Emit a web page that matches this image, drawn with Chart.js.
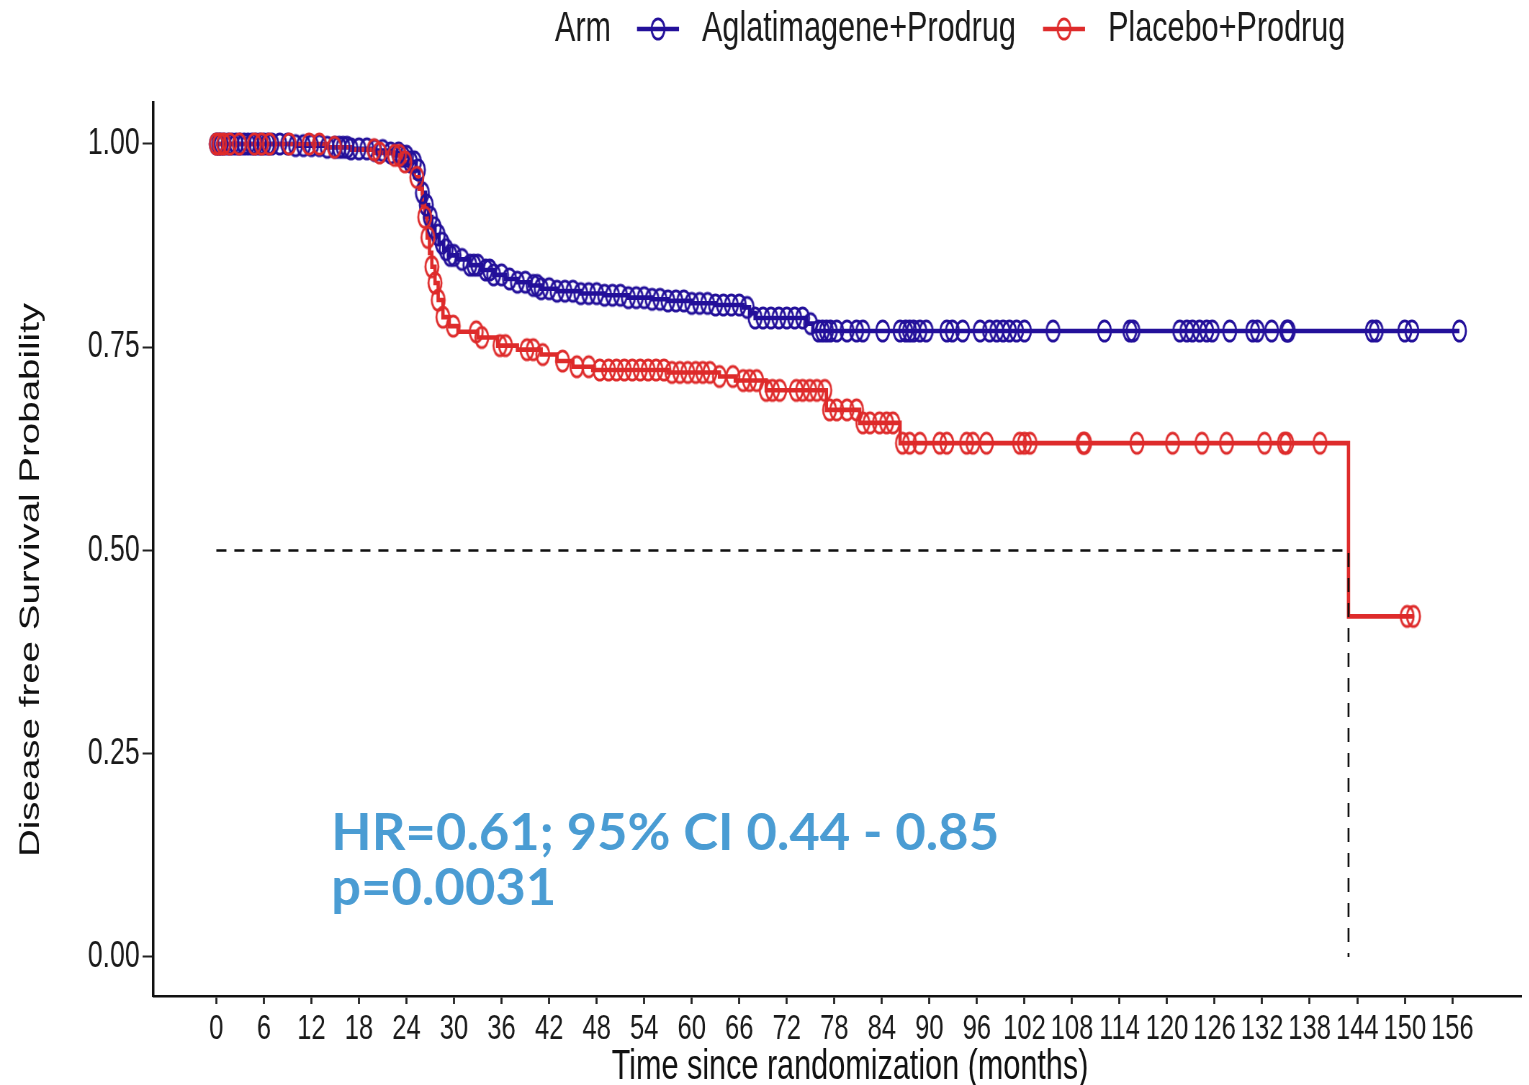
<!DOCTYPE html>
<html><head><meta charset="utf-8">
<script src="https://cdn.jsdelivr.net/npm/chart.js@4.4.1/dist/chart.umd.min.js"></script>
<style>
html,body{margin:0;padding:0;background:#fff;overflow:hidden;width:1529px;height:1085px}
#wrap{position:absolute;left:0;top:0;transform-origin:0 0}
canvas{display:block}
</style></head><body>
<div id="wrap"><canvas id="c"></canvas></div>
<script>
// ---------------- data ----------------
const xTickLabels = [0,6,12,18,24,30,36,42,48,54,60,66,72,78,84,90,96,102,108,114,120,126,132,138,144,150,156];
const yTickLabels = [0,0.25,0.5,0.75,1];
const armNames = ['Aglatimagene+Prodrug','Placebo+Prodrug'];

// Aglatimagene+Prodrug : event times (months) and survival after each event
const aglaTimes = [0,10,14,17,20,22,23.5,24.5,25.2,25.6,26,26.4,26.8,27.2,27.6,28.1,28.7,29.4,30.5,32,33.5,35,36.5,38,39.5,41,43,46,49,52,55,57,60,63,66.5,67.3,68,74.5,75.3];
const aglaSurv  = [1,0.998,0.996,0.994,0.992,0.989,0.985,0.978,0.968,0.955,0.94,0.925,0.91,0.897,0.888,0.878,0.87,0.863,0.858,0.851,0.845,0.839,0.834,0.83,0.826,0.822,0.819,0.816,0.814,0.811,0.809,0.807,0.804,0.802,0.799,0.792,0.786,0.779,0.770];
const aglaCensor = [0,0.3,0.6,1,1.5,2,2.5,3,3.5,4,4.5,5,5.5,6,6.5,7,8,9,10,11,12,13,14,15,15.5,16,16.5,17,18,19,20,21,22,23,23.5,24,24.5,25,25.5,26,26.5,27,27.5,28,28.5,29,29.5,30,31,32,32.5,33,34,34.5,35,36,37,38,39,40,40.5,41,42,43,44,45,46,47,48,49,50,51,52,53,54,55,56,57,58,59,60,61,62,63,64,65,66,67,68,69,70,71,72,73,74,75,76,76.5,77,77.5,78.3,79.6,80.8,81.6,84.1,86.3,87,87.5,88,88.8,89.6,92.2,92.9,94.2,96.4,97.6,98.5,99.3,100.1,101,102,105.6,112.1,115.3,115.7,121.6,122.5,123.2,124.1,125,125.7,127.9,130.8,131.4,133.2,135.1,135.3,145.9,146.4,150,150.9,156.9];

// Placebo+Prodrug
const placTimes = [0,14,17,20,22.5,23.5,24.3,25,25.6,26,26.3,26.6,26.9,27.2,27.6,28,28.6,29.4,30.5,33,35.5,38,41,43,45,47.5,57,63.5,65.5,69.4,77,81.2,86.3,142.9];
const placSurv  = [1,0.996,0.993,0.989,0.986,0.978,0.968,0.959,0.945,0.925,0.91,0.885,0.866,0.849,0.829,0.808,0.787,0.776,0.769,0.762,0.752,0.747,0.741,0.733,0.726,0.722,0.719,0.714,0.709,0.697,0.673,0.657,0.632,0.419];
const placCensor = [0,0.4,0.9,1.7,2.9,4.8,5.7,6.7,9.2,11.7,13,14.9,19.9,20.6,22.5,23.1,23.8,25.3,26.3,26.7,27.2,27.6,28,28.6,29.9,32.8,33.5,35.8,36.5,39.2,40,41.2,43.7,45.5,47,48.4,49.5,50.5,51.5,52.5,53.5,54.5,55.5,56.5,57.5,58.5,59.5,60.5,61.4,62.3,63.5,65.2,66.5,67.3,68.2,69.4,70.2,71.1,73.2,74,74.9,75.8,76.8,77.4,78.3,79.6,80.8,81.6,82.5,83.7,84.6,85.4,86.6,87.5,88.8,91.3,92.2,94.7,95.5,97.2,101.4,102,102.7,109.4,109.6,116.2,120.7,124.4,127.5,132.3,134.8,135.1,139.3,150.3,151.1];

// median survival reference line
const medianTime = [142.9];
const medianSurv = [0.5];

const annotLines = ['HR=0.61; 95% CI 0.44 - 0.85','p=0.0031'];
const annotAnchor = [14.5, 0.132];
const yTitle = 'Disease free Survival Probability';
const xTitle = 'Time since randomization (months)';

// ---------------- styling / layout ----------------
const SX = 0.72;                       // horizontal compression of the picture
const W = Math.round(1529 / SX), H = 1085;
const BLUE = '#23109a', RED = '#de2b2b', ANNOT = '#4a9cd3';
const FONT = "'Liberation Sans', Arial, sans-serif";

const cv = document.getElementById('c');
cv.width = W; cv.height = H;
cv.style.width = W + 'px'; cv.style.height = H + 'px';
document.getElementById('wrap').style.transform = 'scaleX(' + SX + ')';

function survAt(times, surv, t) {
  let s = surv[0];
  for (let i = 0; i < times.length; i++) if (times[i] <= t) s = surv[i];
  return s;
}
function stepData(times, surv, censor) {
  const d = times.map((t, i) => ({x: t, y: surv[i]}));
  const last = Math.max(...censor);
  d.push({x: last, y: survAt(times, surv, last)});
  return d;
}
function censorData(times, surv, censor) {
  return censor.map(t => ({x: t, y: survAt(times, surv, t)}));
}
function ring(color) {
  const c = document.createElement('canvas');
  c.width = 24; c.height = 26;
  const g = c.getContext('2d');
  g.strokeStyle = color; g.lineWidth = 2.8;
  g.beginPath(); g.ellipse(12, 13, 9, 10.2, 0, 0, Math.PI * 2); g.stroke();
  return c;
}
const ringBlue = ring(BLUE), ringRed = ring(RED);

const overlay = {
  id: 'overlay',
  afterDraw(chart) {
    const ctx = chart.ctx;
    // legend
    ctx.save();
    ctx.font = '42.5px ' + FONT;
    ctx.fillStyle = '#1a1a1a';
    ctx.textBaseline = 'middle';
    const ly = 29;
    ctx.fillText('Arm', 555 / SX, ly);
    const items = [[BLUE, ringBlue, 637, 702, armNames[0]], [RED, ringRed, 1043, 1108, armNames[1]]];
    items.forEach(([col, img, ix, tx, name]) => {
      ctx.strokeStyle = col; ctx.lineWidth = 4.5;
      ctx.beginPath(); ctx.moveTo(ix / SX, ly); ctx.lineTo((ix + 42) / SX, ly); ctx.stroke();
      const cx = (ix + 21) / SX;
      ctx.drawImage(img, cx - img.width / 2, ly - img.height / 2);
      ctx.fillStyle = '#1a1a1a';
      ctx.fillText(name, tx / SX, ly);
    });
    ctx.restore();
    // axis titles
    ctx.save();
    ctx.fillStyle = '#111';
    ctx.textAlign = 'center';
    ctx.textBaseline = 'middle';
    ctx.font = '42.5px ' + FONT;
    ctx.fillText(xTitle, 850 / SX, 1067);
    ctx.font = '38.5px ' + FONT;
    ctx.translate(31 / SX, 580);
    ctx.rotate(-Math.PI / 2);
    ctx.fillText(yTitle, 0, 0);
    ctx.restore();
    // annotation (drawn un-compressed)
    const xs = chart.scales.x, ys = chart.scales.y;
    ctx.save();
    ctx.scale(1 / SX, 1);
    ctx.font = 'bold 52.5px Lato, ' + FONT;
    ctx.fillStyle = ANNOT;
    ctx.textBaseline = 'alphabetic';
    const ax = xs.getPixelForValue(annotAnchor[0]) * SX;
    const ay = ys.getPixelForValue(annotAnchor[1]);
    annotLines.forEach((s, i) => ctx.fillText(s, ax, ay + i * 55));
    ctx.restore();
  }
};

new Chart(cv, {
  type: 'line',
  data: {
    datasets: [
      {label: 'median', data: [{x: 0, y: medianSurv[0]}, {x: medianTime[0], y: medianSurv[0]}, {x: medianTime[0], y: 0}],
        borderColor: '#111', borderWidth: 2.6, borderDash: [14, 11], pointRadius: 0, fill: false, order: 0},
      {label: armNames[1] + ' censor', data: censorData(placTimes, placSurv, placCensor), showLine: false,
        pointStyle: ringRed, borderColor: RED, pointRadius: 10, order: 1},
      {label: armNames[0] + ' censor', data: censorData(aglaTimes, aglaSurv, aglaCensor), showLine: false,
        pointStyle: ringBlue, borderColor: BLUE, pointRadius: 10, order: 2},
      {label: armNames[1], data: stepData(placTimes, placSurv, placCensor), stepped: 'before',
        borderColor: RED, borderWidth: 4.6, pointRadius: 0, fill: false, order: 3},
      {label: armNames[0], data: stepData(aglaTimes, aglaSurv, aglaCensor), stepped: 'before',
        borderColor: BLUE, borderWidth: 4.6, pointRadius: 0, fill: false, order: 4}
    ]
  },
  options: {
    responsive: false,
    animation: false,
    devicePixelRatio: 1,
    layout: {padding: {top: 103, right: 0, left: 0, bottom: 0}},
    plugins: {legend: {display: false}, tooltip: {enabled: false}},
    scales: {
      x: {
        type: 'linear', min: -7.95, max: 164.72,
        afterBuildTicks: s => { s.ticks = xTickLabels.map(v => ({value: v})); },
        afterFit: s => { s.height = 89; },
        grid: {drawOnChartArea: false, drawTicks: true, tickLength: 8, tickWidth: 2.8, tickColor: '#222'},
        border: {display: true, color: '#111', width: 2.5},
        ticks: {autoSkip: false, maxRotation: 0, padding: 4, color: '#1a1a1a', font: {family: FONT, size: 35.5}},
        title: {display: false}
      },
      y: {
        type: 'linear', min: -0.048, max: 1.0504,
        afterBuildTicks: s => { s.ticks = yTickLabels.map(v => ({value: v})); },
        afterFit: s => { s.width = 213; },
        grid: {drawOnChartArea: false, drawTicks: true, tickLength: 15, tickWidth: 2, tickColor: '#222'},
        border: {display: true, color: '#111', width: 3.5},
        ticks: {padding: 4, color: '#1a1a1a', font: {family: FONT, size: 37}, callback: v => Number(v).toFixed(2)},
        title: {display: false}
      }
    }
  },
  plugins: [overlay]
});
</script>
</body></html>
